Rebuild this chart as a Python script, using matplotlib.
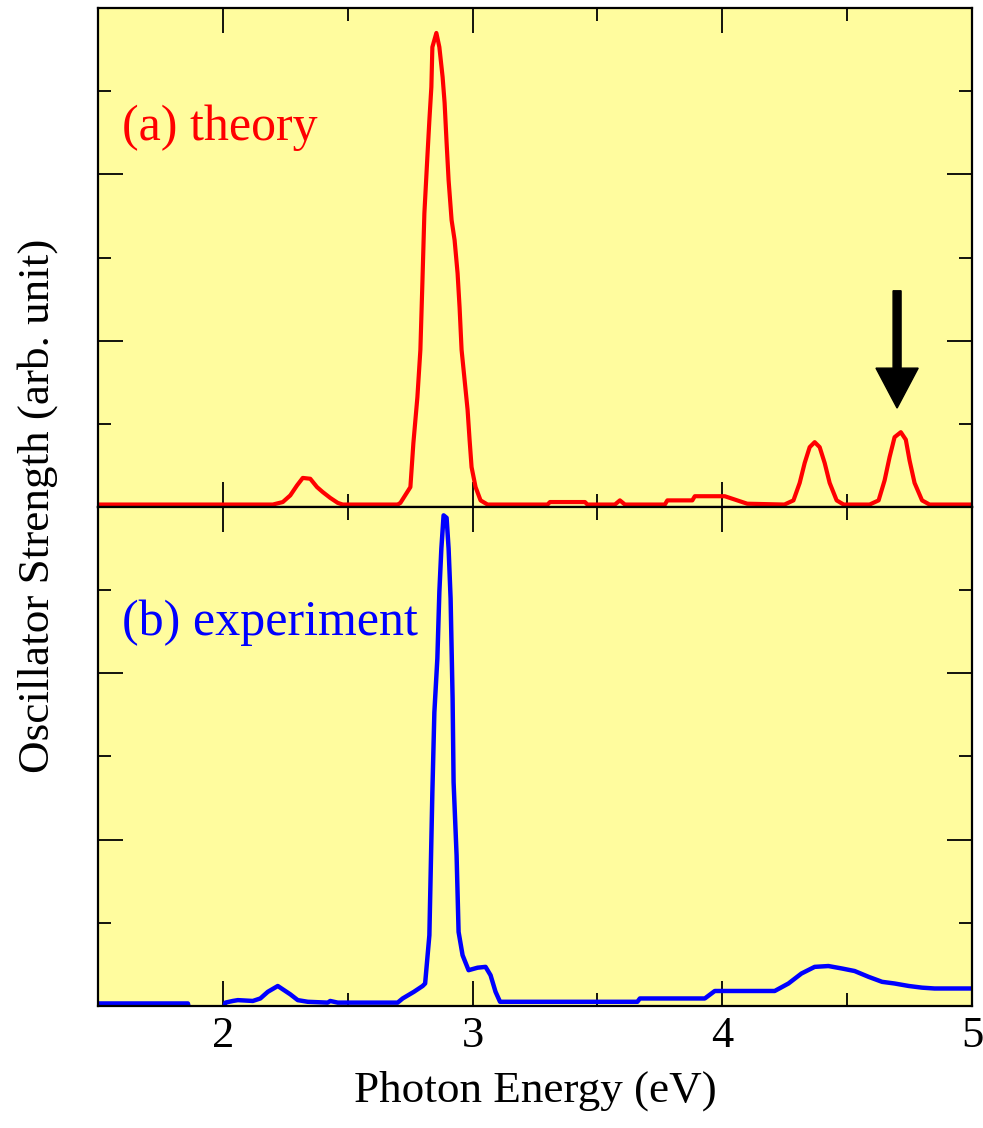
import numpy as np
import matplotlib.pyplot as plt
from matplotlib.ticker import MultipleLocator, NullFormatter

plt.rcParams['font.family'] = ['Liberation Serif', 'DejaVu Serif']

# Theory spectrum (a), photon energy in eV vs oscillator strength (arb. unit)
theory_x = [1.50, 2.20, 2.24, 2.27, 2.297, 2.32, 2.35, 2.377, 2.40, 2.43, 2.46, 2.48,
            2.70, 2.711, 2.751, 2.763, 2.779, 2.791, 2.799, 2.807, 2.819, 2.827, 2.835,
            2.839, 2.855, 2.867, 2.880, 2.888, 2.896, 2.904, 2.916, 2.928, 2.940, 2.948,
            2.956, 2.968, 2.980, 2.988, 2.996, 3.012, 3.032, 3.06,
            3.30, 3.31, 3.45, 3.46, 3.57, 3.59, 3.61, 3.77, 3.78, 3.88, 3.89, 4.01,
            4.04, 4.10, 4.249, 4.285, 4.31, 4.33, 4.35, 4.37, 4.39, 4.41, 4.43, 4.458,
            4.486, 4.59, 4.626, 4.65, 4.67, 4.69, 4.715, 4.735, 4.75, 4.77, 4.80, 4.83, 5.00]
theory_y = [0.03, 0.03, 0.06, 0.14, 0.26, 0.35, 0.34, 0.24, 0.18, 0.11, 0.05, 0.03,
            0.03, 0.05, 0.24, 0.77, 1.32, 1.89, 2.69, 3.53, 4.21, 4.65, 5.05,
            5.53, 5.70, 5.53, 5.17, 4.86, 4.38, 3.93, 3.45, 3.21, 2.81, 2.40,
            1.89, 1.53, 1.17, 0.81, 0.48, 0.24, 0.08, 0.03,
            0.03, 0.06, 0.06, 0.03, 0.03, 0.08, 0.03, 0.03, 0.08, 0.08, 0.13, 0.13,
            0.10, 0.04, 0.03, 0.08, 0.29, 0.53, 0.72, 0.78, 0.72, 0.53, 0.29, 0.08,
            0.03, 0.03, 0.08, 0.32, 0.60, 0.84, 0.90, 0.81, 0.56, 0.29, 0.08, 0.03, 0.03]

# Experiment spectrum (b)
exp_x = [1.50, 1.86, 1.87, 2.00, 2.01, 2.04, 2.06, 2.12, 2.15, 2.18, 2.22, 2.24, 2.27,
         2.30, 2.34, 2.42, 2.43, 2.46, 2.70, 2.72, 2.765, 2.80, 2.81, 2.827, 2.839,
         2.847, 2.859, 2.867, 2.875, 2.884, 2.896, 2.904, 2.912, 2.92, 2.924, 2.936,
         2.944, 2.96, 2.984, 3.02, 3.052, 3.072, 3.092, 3.11, 3.66, 3.67, 3.93, 3.97,
         4.21, 4.265, 4.317, 4.37, 4.425, 4.48, 4.53, 4.586, 4.64, 4.69, 4.747, 4.80,
         4.85, 5.00]
exp_y = [0.03, 0.03, -0.1, -0.1, 0.04, 0.06, 0.07, 0.06, 0.09, 0.17, 0.24, 0.20, 0.14,
         0.07, 0.05, 0.04, 0.06, 0.04, 0.04, 0.09, 0.17, 0.24, 0.27, 0.85, 2.57,
         3.53, 4.18, 4.98, 5.50, 5.90, 5.87, 5.50, 4.90, 3.70, 2.69, 1.81,
         0.89, 0.61, 0.43, 0.46, 0.47, 0.37, 0.17, 0.05, 0.05, 0.09, 0.09, 0.18,
         0.18, 0.27, 0.39, 0.47, 0.48, 0.45, 0.42, 0.35, 0.29, 0.27, 0.24, 0.22,
         0.21, 0.21]

bg = '#fffc9e'

fig = plt.figure(figsize=(9.83, 11.28), dpi=100)
ax_top = fig.add_axes([0.0997, 0.5505, 0.8891, 0.4424])
ax_bot = fig.add_axes([0.0997, 0.1082, 0.8891, 0.4423], sharex=ax_top)

for ax in (ax_top, ax_bot):
    ax.set_facecolor(bg)
    ax.set_xlim(1.5, 5)
    ax.set_ylim(0, 6)
    ax.xaxis.set_major_locator(MultipleLocator(1))
    ax.xaxis.set_minor_locator(MultipleLocator(0.5))
    ax.yaxis.set_major_locator(MultipleLocator(2))
    ax.yaxis.set_minor_locator(MultipleLocator(1))
    ax.tick_params(which='both', direction='in', top=True, right=True, width=1.3, color='black')
    ax.tick_params(which='major', length=18)
    ax.tick_params(which='minor', length=9.5)
    ax.yaxis.set_major_formatter(NullFormatter())
    for s in ax.spines.values():
        s.set_linewidth(1.6)

ax_top.tick_params(labelbottom=False)
ax_bot.tick_params(axis='x', labelsize=32, pad=7)

ax_top.plot(theory_x, theory_y, color='#ff0000', lw=3.0)
ax_bot.plot(exp_x, exp_y, color='#0000ff', lw=3.2)

# arrow pointing at the 4.7 eV peak
ax_top.arrow(4.70, 2.60, 0, -1.41, width=0.032, head_width=0.169, head_length=0.48,
             length_includes_head=True, color='black')

ax_top.text(1.596, 4.41, '(a) theory', color='#ff0000', fontsize=36, va='baseline')
ax_bot.text(1.596, 4.46, '(b) experiment', color='#0000ff', fontsize=36, va='baseline')

ax_bot.set_xlabel('Photon Energy (eV)', fontsize=32.5, labelpad=11)
fig.text(38 / 983, 1 - 506 / 1128, 'Oscillator Strength (arb. unit)', fontsize=32.5,
         rotation=90, ha='center', va='center')

fig.savefig('out.png', dpi=100)
